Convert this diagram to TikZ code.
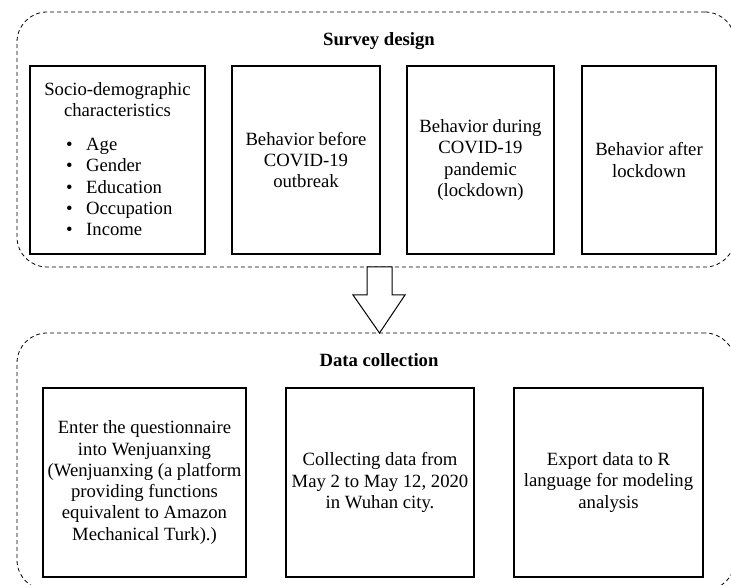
\documentclass[tikz,border=0pt]{standalone}
\usepackage{fontspec}
\setmainfont{Liberation Serif}
\usetikzlibrary{calc}
\begin{document}
\begin{tikzpicture}[x=1pt,y=-1pt,
  txt/.style={font=\fontsize{18.7}{21.3}\selectfont, inner sep=0pt},
  container/.style={draw, line width=0.8pt, dash pattern=on 4pt off 3pt, rounded corners=30pt, inner sep=0pt},
  box/.style={txt, draw, line width=1.1pt, align=center},
  title/.style={txt, font=\fontsize{18.7}{21.3}\selectfont\bfseries, anchor=base},
  blockarrow/.style={draw, line width=1pt, fill=white, line join=miter}
]
\useasboundingbox (0,0) rectangle (731,585);
\clip (0,0) rectangle (731,585);

% containers
\node[container, minimum width=718pt, minimum height=255pt] (sd) at (376,139.5) {};
\node[container, minimum width=718pt, minimum height=257pt] (dc) at (376,461.5) {};

% titles
\node[title] (sdt) at (379,45.7) {Survey design};
\node[title] (dct) at (379,366.7) {Data collection};

% survey design boxes
\node[box, minimum width=175pt, minimum height=188pt] (a1) at (117.5,160) {};
\node[txt, anchor=base] (a1t) at (117.5,96) {Socio-demographic};
\node[txt, anchor=base] (a1u) at (117.5,117) {characteristics};
\node[txt, anchor=base west] (a1l) at (66,150.7) {\begin{tabular}[t]{@{}l@{}}
\makebox[20pt][l]{\textbullet}Age\\
\makebox[20pt][l]{\textbullet}Gender\\
\makebox[20pt][l]{\textbullet}Education\\
\makebox[20pt][l]{\textbullet}Occupation\\
\makebox[20pt][l]{\textbullet}Income
\end{tabular}};
\node[box, minimum width=148pt, minimum height=188pt] (a2) at (306,160) {Behavior before\\COVID-19\\outbreak};
\node[box, minimum width=147pt, minimum height=188pt] (a3) at (480.5,160) {Behavior during\\COVID-19\\pandemic\\(lockdown)};
\node[box, minimum width=134pt, minimum height=188pt] (a4) at (649,160) {Behavior after\\lockdown};

% data collection boxes
\node[box, minimum width=203pt, minimum height=189pt] (c1) at (144.5,482.5) {Enter the questionnaire\\into Wenjuanxing\\(Wenjuanxing (a platform\\providing functions\\equivalent to Amazon\\Mechanical Turk).)};
\node[box, minimum width=188pt, minimum height=189pt] (c2) at (380,482.5) {Collecting data from\\May 2 to May 12, 2020\\in Wuhan city.};
\node[box, minimum width=189pt, minimum height=189pt] (c3) at (608.5,482.5) {Export data to R\\language for modeling\\analysis};

% block arrow from survey design to data collection
\coordinate (tip) at (379.5,333);
\draw[blockarrow] (367,267) -- (367,295) -- (353,295) -- (tip) -- (405,295) -- (392,295) -- (392,267) -- cycle;
\end{tikzpicture}
\end{document}
